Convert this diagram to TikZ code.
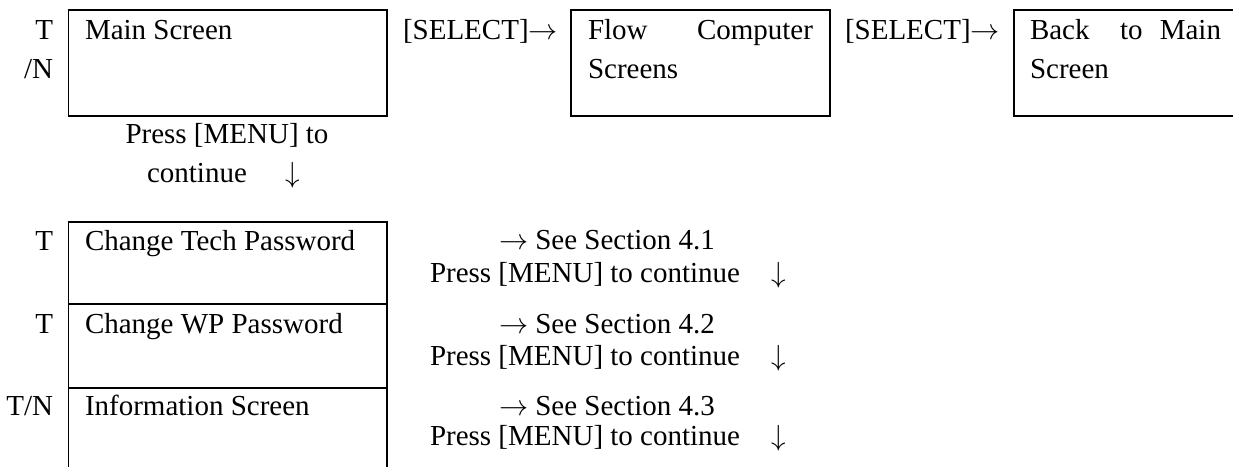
\documentclass[tikz,border=0pt]{standalone}
\usepackage{graphicx}
\usepackage{fontspec}
\setmainfont{Liberation Serif}
\newcommand{\ra}{\scalebox{1.17}{$\rightarrow$}}
\newcommand{\da}{\scalebox{1.17}{$\downarrow$}}
\begin{document}
\begin{tikzpicture}[x=1pt,y=-1pt,
  every node/.style={inner sep=0pt,outer sep=0pt,font=\fontsize{29}{35}\selectfont},
  txt/.style={anchor=base west},
  txr/.style={anchor=base east},
  txc/.style={anchor=base},
  frame/.style={draw,line width=1.3pt},
  edge/.style={line width=1.3pt}]
\useasboundingbox (0,0) rectangle (1233,466);
% top row boxes
\node[frame,minimum width=318.5pt,minimum height=106pt] (main) at (227.75,63) {};
\node[frame,minimum width=259pt,minimum height=106pt] (flow) at (700.5,63) {};
\coordinate (backtl) at (1014,10);
\coordinate (backbl) at (1014,116);
\coordinate (backtr) at (1240,10);
\coordinate (backbr) at (1240,116);
\draw[edge] (backtr) -- (backtl) -- (backbl) -- (backbr);
% lower stack
\node[frame,minimum width=318.5pt,minimum height=82pt] (tech) at (227.75,263) {};
\node[frame,minimum width=318.5pt,minimum height=84pt] (wp) at (227.75,346) {};
\coordinate (infobl) at (68.5,470);
\coordinate (infobr) at (387,470);
\draw[edge] (infobl) -- (wp.south west) -- (wp.south east) -- (infobr);
% labels left
\node[txr] (l1a) at (53,39) {T};
\node[txr] (l1b) at (53,78) {/N};
\node[txr] (l2) at (53,250) {T};
\node[txr] (l3) at (53,333) {T};
\node[txr] (l4) at (53,415) {T/N};
% box texts
\node[txt] (t1) at (85,39) {Main Screen};
\node[txt] (t2a) at (588,39) {Flow};
\node[txr] (t2b) at (813,39) {Computer};
\node[txt] (t2c) at (588,78) {Screens};
\node[txt] (t3a) at (1030,39) {Back};
\node[txt] (t3b) at (1120,39) {to};
\node[txr] (t3c) at (1221,39) {Main};
\node[txt] (t3d) at (1030,78) {Screen};
\node[txt] (t4) at (85,250) {Change Tech Password};
\node[txt] (t5) at (85,333) {Change WP Password};
\node[txt] (t6) at (85,415) {Information Screen};
% select labels
\node[txt] (s1) at (403,39) {[SELECT]\ra};
\node[txt] (s2) at (845,39) {[SELECT]\ra};
% press menu under main
\node[txc] (p1) at (227,143) {Press [MENU] to};
\node[txt] (p2) at (147,182) {continue};
\node[txc] (p2a) at (293,182) {\da};
% right column
\node[txt] (r1) at (499,249) {\ra{} See Section 4.1};
\node[txt] (r1b) at (430,282) {Press [MENU] to continue};
\node[txc] (r1c) at (779,282) {\da};
\node[txt] (r2) at (499,333) {\ra{} See Section 4.2};
\node[txt] (r2b) at (430,365) {Press [MENU] to continue};
\node[txc] (r2c) at (779,365) {\da};
\node[txt] (r3) at (499,415) {\ra{} See Section 4.3};
\node[txt] (r3b) at (430,445) {Press [MENU] to continue};
\node[txc] (r3c) at (779,445) {\da};
\end{tikzpicture}
\end{document}
